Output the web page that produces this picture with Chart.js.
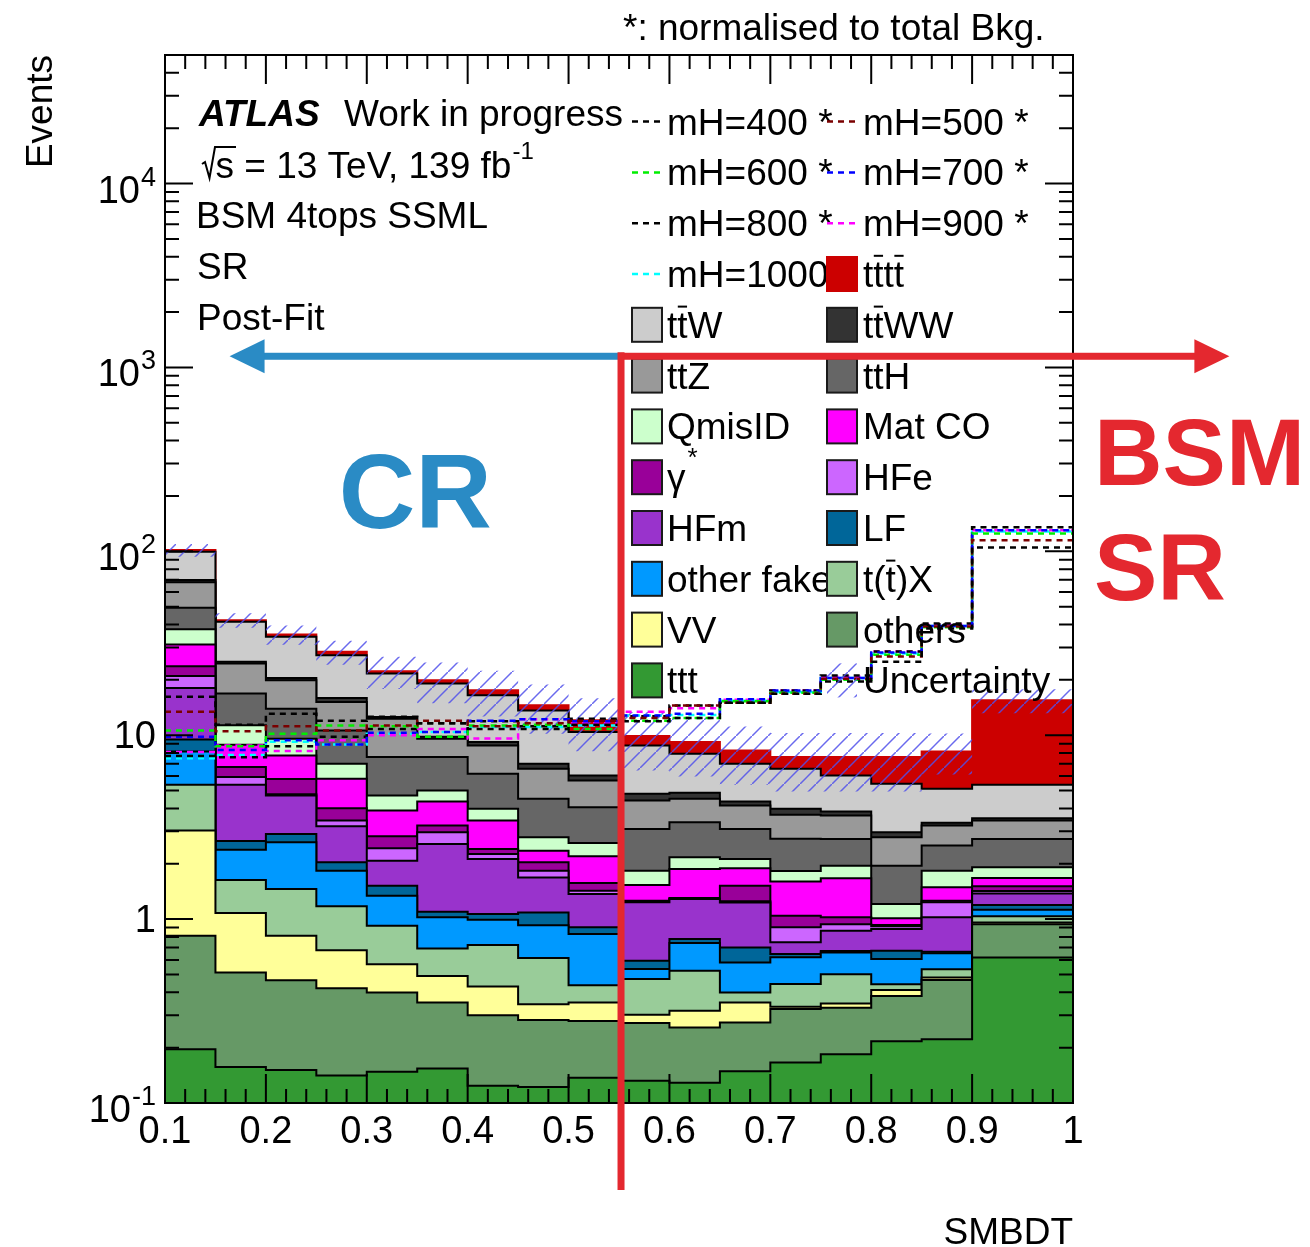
<!DOCTYPE html>
<html>
<head>
<meta charset="utf-8">
<title>SMBDT post-fit</title>
<script src="https://cdn.jsdelivr.net/npm/chart.js@4.4.0/dist/chart.umd.min.js"></script>
<style>
  html, body { margin: 0; padding: 0; background: #fff; }
  canvas { display: block; }
</style>
</head>
<body>
<canvas id="plot" width="1310" height="1247"></canvas>
<script>
// SMBDT binning: 16 bins of 0.05 and one wide bin at the end
const binEdges = [0.1, 0.15, 0.2, 0.25, 0.3, 0.35, 0.4, 0.45, 0.5, 0.55, 0.6, 0.65, 0.7, 0.75, 0.8, 0.85, 0.9, 1.0];

// background yields per bin, listed from the bottom of the stack upwards
const ttt       = [0.196, 0.157, 0.151, 0.141, 0.148, 0.154, 0.124, 0.122, 0.137, 0.132, 0.129, 0.149, 0.166, 0.184, 0.217, 0.222, 0.618];
const others    = [0.615, 0.355, 0.314, 0.280, 0.251, 0.198, 0.176, 0.161, 0.142, 0.140, 0.128, 0.125, 0.158, 0.146, 0.165, 0.245, 0.321];
const VV        = [2.22, 0.566, 0.346, 0.257, 0.170, 0.139, 0.130, 0.061, 0.073, 0.030, 0.060, 0.078, 0.010, 0.018, 0.030, 0.014, 0.020];
const tX        = [2.34, 0.553, 0.646, 0.495, 0.351, 0.201, 0.292, 0.271, 0.085, 0.170, 0.207, 0.047, 0.110, 0.153, 0.031, 0.053, 0.076];
const otherFake = [2.79, 0.755, 1.161, 0.660, 0.421, 0.330, 0.269, 0.312, 0.392, 0.063, 0.217, 0.182, 0.176, 0.157, 0.163, 0.119, 0.089];
const LF        = [1.33, 0.276, 0.288, 0.204, 0.179, 0.074, 0.074, 0.160, 0.073, 0.059, 0.038, 0.120, 0.026, 0.013, 0.067, 0.011, 0.068];
const HFm       = [8.59, 2.71, 1.79, 1.163, 0.559, 1.467, 1.058, 0.599, 0.468, 0.640, 0.507, 0.532, 0.102, 0.192, 0.210, 0.359, 0.188];
const HFe       = [2.94, 0.55, 0.08, 0.234, 0.35, 0.406, 0.138, 0.146, 0.057, 0.017, 0.005, 0.017, 0.155, 0.076, 0.031, 0.211, 0.04];
const gammaStar = [2.69, 0.79, 1.01, 0.578, 0.395, 0.256, 0.146, 0.204, 0.145, 0.008, 0.01, 0.269, 0.141, 0.083, 0.014, 0.025, 0.087];
const matCO     = [7.42, 2.17, 1.97, 1.78, 1.069, 1.132, 1.027, 0.319, 0.625, 0.274, 0.573, 0.37, 0.555, 0.644, 0.082, 0.231, 0.166];
const qmisID    = [6.59, 2.43, 1.81, 1.20, 0.81, 0.646, 0.543, 0.432, 0.399, 0.301, 0.296, 0.234, 0.229, 0.286, 0.198, 0.344, 0.239];
const ttH       = [11.63, 5.53, 4.37, 3.63, 2.91, 2.60, 2.19, 1.72, 1.466, 1.261, 1.196, 0.971, 0.903, 0.777, 0.745, 0.676, 0.817];
const ttZ       = [18.45, 7.69, 5.95, 4.55, 4.69, 1.96, 2.63, 2.06, 1.61, 1.319, 1.143, 1.049, 0.959, 0.926, 0.836, 0.716, 0.705];
const ttWW      = [2.0, 0.53, 0.61, 0.78, 0.27, 0.24, 0.38, 0.42, 0.37, 0.39, 0.352, 0.214, 0.289, 0.188, 0.181, 0.111, 0.104];
const ttW       = [29.8, 16.34, 13.79, 11.27, 9.06, 9.28, 7.30, 6.66, 4.37, 4.0, 3.07, 2.633, 2.593, 2.197, 2.472, 1.774, 1.835];
const tttt      = [2.0, 0.8, 1.0, 1.19, 0.64, 0.80, 1.06, 0.89, 1.63, 1.1, 1.25, 1.275, 1.037, 1.567, 2.166, 3.05, 10.1];

// relative total uncertainty on the background sum
const uncRel = [0.08, 0.09, 0.12, 0.15, 0.2, 0.25, 0.28, 0.3, 0.32, 0.35, 0.35, 0.35, 0.35, 0.35, 0.35, 0.25, 0.15];

// heavy Higgs signal shapes, normalised to the total background
const mH400  = [16.2, 11.4, 13.1, 12.0, 12.6, 11.6, 10.8, 10.8, 11.4, 11.9, 12.4, 15.0, 16.8, 19.6, 25.1, 38.0, 105];
const mH500  = [13.4, 10.5, 11.2, 10.6, 11.3, 12.0, 11.2, 11.6, 12.0, 12.4, 14.5, 15.0, 16.8, 20.3, 26.8, 39.0, 115];
const mH600  = [10.6, 8.7, 10.2, 11.3, 11.2, 9.8, 11.3, 11.4, 10.8, 12.0, 12.4, 15.3, 17.0, 20.0, 27.4, 38.6, 125];
const mH700  = [9.8, 8.3, 9.4, 8.9, 10.3, 10.4, 12.0, 12.2, 11.9, 12.8, 13.1, 15.7, 17.5, 20.5, 28.2, 39.3, 130];
const mH800  = [7.7, 7.6, 8.7, 9.8, 10.8, 11.6, 11.9, 11.2, 12.3, 12.7, 14.5, 15.0, 17.5, 21.1, 28.5, 40.5, 135];
const mH900  = [8.1, 8.8, 8.2, 9.4, 10.0, 10.8, 9.6, 12.2, 11.6, 13.4, 14.0, 15.6, 17.5, 20.8, 28.5, 40.0, 130];
const mH1000 = [7.5, 7.8, 9.2, 8.9, 10.2, 10.4, 11.1, 11.1, 11.3, 12.8, 12.9, 15.4, 17.2, 20.5, 27.8, 39.3, 128];

const xTickLabels = ['0.1', '0.2', '0.3', '0.4', '0.5', '0.6', '0.7', '0.8', '0.9', '1'];
const yDecades = [-1, 0, 1, 2, 3, 4];

const FONT = '"Liberation Sans", Arial, Helvetica, sans-serif';
const RED = '#e4282f';
const BLUE = '#2a8bc5';

const stackParts = [
  { label: 'ttt', values: ttt, color: '#339933' },
  { label: 'others', values: others, color: '#669966' },
  { label: 'VV', values: VV, color: '#ffff99' },
  { label: 't(~t)X', values: tX, color: '#99cc99' },
  { label: 'other fake', values: otherFake, color: '#0099ff' },
  { label: 'LF', values: LF, color: '#006699' },
  { label: 'HFm', values: HFm, color: '#9933cc' },
  { label: 'HFe', values: HFe, color: '#cc66ff' },
  { label: 'γ^*', values: gammaStar, color: '#990099' },
  { label: 'Mat CO', values: matCO, color: '#ff00ff' },
  { label: 'QmisID', values: qmisID, color: '#ccffcc' },
  { label: 'ttH', values: ttH, color: '#666666' },
  { label: 'ttZ', values: ttZ, color: '#999999' },
  { label: 't~tWW', values: ttWW, color: '#333333' },
  { label: 't~tW', values: ttW, color: '#cccccc' },
  { label: 't~tt~t', values: tttt, color: '#cc0000', edge: '#cc0000' },
];

const signals = [
  { label: 'mH=400 *', values: mH400, color: '#000000' },
  { label: 'mH=500 *', values: mH500, color: '#7a0000' },
  { label: 'mH=600 *', values: mH600, color: '#00ee00' },
  { label: 'mH=700 *', values: mH700, color: '#0000ff' },
  { label: 'mH=800 *', values: mH800, color: '#000000' },
  { label: 'mH=900 *', values: mH900, color: '#ff00ff' },
  { label: 'mH=1000', values: mH1000, color: '#00ffff' },
];

// histogram as a step line: one point per low bin edge plus the closing edge
function steps(vals) {
  const pts = vals.map((v, i) => ({ x: binEdges[i], y: v }));
  pts.push({ x: binEdges[binEdges.length - 1], y: vals[vals.length - 1] });
  return pts;
}

function hatchPattern() {
  const c = document.createElement('canvas');
  c.width = 16; c.height = 16;
  const g = c.getContext('2d');
  g.strokeStyle = 'rgba(80, 80, 235, 0.85)';
  g.lineWidth = 1.5;
  g.beginPath();
  g.moveTo(-2, 18);
  g.lineTo(18, -2);
  g.stroke();
  return g.createPattern(c, 'repeat');
}
const hatch = hatchPattern();

// cumulative stack
let running = binEdges.slice(0, -1).map(() => 0);
const stackSets = stackParts.map((p, k) => {
  running = running.map((r, i) => r + p.values[i]);
  return {
    label: p.label,
    data: steps(running),
    stepped: true,
    fill: k === 0 ? 'start' : '-1',
    backgroundColor: p.color,
    borderColor: p.edge || '#000000',
    borderWidth: 2,
    pointRadius: 0,
    order: 3,
  };
});
const total = running.slice();

const bandSets = [
  {
    label: 'band low',
    data: steps(total.map((t, i) => t * (1 - uncRel[i]))),
    stepped: true, fill: false, pointRadius: 0,
    borderColor: 'rgba(0,0,0,0)', borderWidth: 1, order: 2,
  },
  {
    label: 'Uncertainty',
    data: steps(total.map((t, i) => t * (1 + uncRel[i]))),
    stepped: true, fill: '-1', pointRadius: 0,
    backgroundColor: hatch,
    borderColor: 'rgba(0,0,0,0)', borderWidth: 1, order: 2,
  },
];

const signalSets = signals.map(s => ({
  label: s.label,
  data: steps(s.values),
  stepped: true,
  fill: false,
  borderColor: s.color,
  borderWidth: 2.5,
  borderDash: [6, 5],
  pointRadius: 0,
  order: 1,
}));

// rich text: "~" puts a bar over the next glyph, "^" raises the rest
function drawRich(ctx, text, x, y, size) {
  ctx.font = `${size}px ${FONT}`;
  ctx.textAlign = 'left';
  let cx = x;
  for (let i = 0; i < text.length; i++) {
    let ch = text[i];
    if (ch === '^') {
      ctx.font = `${Math.round(size * 0.7)}px ${FONT}`;
      ctx.fillText(text.slice(i + 1), cx + 2, y - size * 0.66);
      ctx.font = `${size}px ${FONT}`;
      return;
    }
    let bar = false;
    if (ch === '~') { bar = true; ch = text[++i]; }
    const w = ctx.measureText(ch).width;
    ctx.fillText(ch, cx, y);
    if (bar) ctx.fillRect(cx + w * 0.05, y - size * 0.87, w * 0.9, 2);
    cx += w;
  }
}

function drawFrame(ctx, a, x, y) {
  ctx.strokeStyle = '#000';
  ctx.lineWidth = 2;
  ctx.strokeRect(a.left, a.top, a.right - a.left, a.bottom - a.top);
  ctx.beginPath();
  for (let k = 0; k <= 45; k++) {
    const px = x.getPixelForValue(0.1 + k * 0.02);
    const len = k % 5 === 0 ? 29 : 14;
    ctx.moveTo(px, a.bottom); ctx.lineTo(px, a.bottom - len);
    ctx.moveTo(px, a.top); ctx.lineTo(px, a.top + len);
  }
  for (let e = -1; e <= 4; e++) {
    for (let m = 1; m <= 9; m++) {
      const v = m * Math.pow(10, e);
      if (v > y.max) break;
      const py = y.getPixelForValue(v);
      const len = m === 1 ? 28 : 14;
      ctx.moveTo(a.left, py); ctx.lineTo(a.left + len, py);
      ctx.moveTo(a.right, py); ctx.lineTo(a.right - len, py);
    }
  }
  ctx.stroke();
}

function drawTickLabels(ctx, a, x, y) {
  ctx.fillStyle = '#000';
  ctx.font = `38px ${FONT}`;
  ctx.textAlign = 'center';
  ctx.textBaseline = 'alphabetic';
  xTickLabels.forEach(t => {
    ctx.fillText(t, x.getPixelForValue(parseFloat(t)), a.bottom + 40);
  });
  const right = a.left - 9;
  yDecades.forEach(e => {
    const py = y.getPixelForValue(Math.pow(10, e));
    if (e === 0 || e === 1) {
      ctx.font = `38px ${FONT}`;
      ctx.textAlign = 'right';
      ctx.fillText(e === 0 ? '1' : '10', right, py + 13);
      return;
    }
    const exp = String(e);
    ctx.textAlign = 'left';
    ctx.font = `27px ${FONT}`;
    const ew = ctx.measureText(exp).width;
    ctx.font = `38px ${FONT}`;
    const bw = ctx.measureText('10').width;
    const x0 = right - ew - bw - 1;
    ctx.fillText('10', x0, py + 19);
    ctx.font = `27px ${FONT}`;
    ctx.fillText(exp, x0 + bw + 1, py + 2);
  });
}

function drawHeader(ctx, a) {
  ctx.fillStyle = '#000';
  ctx.textAlign = 'left';
  ctx.textBaseline = 'alphabetic';
  ctx.font = `37px ${FONT}`;
  ctx.fillText('*: normalised to total Bkg.', 623, 40);

  ctx.font = `italic bold 37px ${FONT}`;
  ctx.fillText('ATLAS', 199, 126);
  ctx.font = `37px ${FONT}`;
  ctx.fillText('Work in progress', 344, 126);

  // sqrt(s) line
  ctx.strokeStyle = '#000';
  ctx.lineWidth = 2;
  ctx.beginPath();
  ctx.moveTo(202, 164); ctx.lineTo(205, 162); ctx.lineTo(209.5, 178);
  ctx.lineTo(215, 147); ctx.lineTo(236, 147);
  ctx.stroke();
  ctx.fillText('s', 215.5, 178);
  const sw = ctx.measureText('s').width;
  const rest = ' = 13 TeV, 139 fb';
  ctx.fillText(rest, 215.5 + sw, 178);
  const rw = ctx.measureText(rest).width;
  ctx.font = `24px ${FONT}`;
  ctx.fillText('-1', 215.5 + sw + rw + 1, 159);

  ctx.font = `37px ${FONT}`;
  ctx.fillText('BSM 4tops SSML', 196, 228);
  ctx.fillText('SR', 197, 279);
  ctx.fillText('Post-Fit', 197, 330);

  // axis titles
  ctx.textAlign = 'right';
  ctx.fillText('SMBDT', a.right, 1244);
  ctx.save();
  ctx.translate(52, 0);
  ctx.rotate(-Math.PI / 2);
  ctx.fillText('Events', -55, 0);
  ctx.restore();
}

function drawLegend(ctx) {
  const boxX = [632, 827];
  const textX = [667, 863];
  const row0 = 121.6, rowStep = 50.8;
  const entries = [];
  signals.forEach(s => entries.push({ kind: 'line', color: s.color, label: s.label }));
  stackParts.slice().reverse().forEach(p => entries.push({ kind: 'box', color: p.color, edge: p.edge, label: p.label }));
  entries.push({ kind: 'hatch', label: 'Uncertainty' });

  entries.forEach((en, i) => {
    const col = i % 2;
    const cy = row0 + Math.floor(i / 2) * rowStep;
    const bx = boxX[col];
    if (en.kind === 'line') {
      ctx.save();
      ctx.strokeStyle = en.color;
      ctx.lineWidth = 2.5;
      ctx.setLineDash([6, 5]);
      ctx.beginPath();
      ctx.moveTo(bx, cy); ctx.lineTo(bx + 31, cy);
      ctx.stroke();
      ctx.restore();
    } else if (en.kind === 'box') {
      ctx.fillStyle = en.color;
      ctx.fillRect(bx, cy - 17, 30, 34);
      ctx.strokeStyle = en.edge || '#1a1a1a';
      ctx.lineWidth = 2;
      ctx.strokeRect(bx, cy - 17, 30, 34);
    } else {
      ctx.fillStyle = hatch;
      ctx.fillRect(bx, cy - 17, 30, 34);
    }
    ctx.fillStyle = '#000';
    drawRich(ctx, en.label, textX[col], cy + 13, 37);
  });
}

function drawArrowHead(ctx, tipX, baseX, cy, half) {
  ctx.beginPath();
  ctx.moveTo(tipX, cy);
  ctx.lineTo(baseX, cy - half);
  ctx.lineTo(baseX, cy + half);
  ctx.closePath();
  ctx.fill();
}

// control region / signal region split at the BDT cut
function drawRegions(ctx, a, x, y) {
  const cutX = x.getPixelForValue(0.552);
  const arrowY = y.getPixelForValue(1150);
  const leftTip = x.getPixelForValue(0.164);
  const rightTip = x.getPixelForValue(1.155);

  ctx.fillStyle = BLUE;
  ctx.fillRect(leftTip + 30, arrowY - 3.5, cutX - leftTip - 30, 7);
  drawArrowHead(ctx, leftTip, leftTip + 35, arrowY, 17);

  ctx.fillStyle = RED;
  ctx.fillRect(cutX, arrowY - 3.5, rightTip - cutX - 30, 7);
  drawArrowHead(ctx, rightTip, rightTip - 35, arrowY, 17);
  ctx.fillRect(cutX - 3.5, arrowY - 4, 7, a.bottom + 87 - arrowY + 4);

  ctx.textBaseline = 'alphabetic';
  ctx.fillStyle = BLUE;
  ctx.font = `bold 106px ${FONT}`;
  ctx.textAlign = 'center';
  ctx.fillText('CR', x.getPixelForValue(0.348), 528);

  ctx.fillStyle = RED;
  ctx.font = `bold 95px ${FONT}`;
  ctx.textAlign = 'left';
  ctx.fillText('BSM', 1094, 485);
  ctx.fillText('SR', 1094, 600);
}

const decor = {
  id: 'decor',
  afterDraw(chart) {
    const { ctx, chartArea: a, scales: { x, y } } = chart;
    ctx.save();
    drawFrame(ctx, a, x, y);
    drawTickLabels(ctx, a, x, y);
    drawHeader(ctx, a);
    drawLegend(ctx);
    drawRegions(ctx, a, x, y);
    ctx.restore();
  }
};

Chart.defaults.font.family = FONT;

new Chart(document.getElementById('plot'), {
  type: 'line',
  data: { datasets: [...stackSets, ...bandSets, ...signalSets] },
  options: {
    responsive: false,
    animation: false,
    devicePixelRatio: 1,
    layout: { padding: { left: 165, right: 237, top: 55, bottom: 144 } },
    plugins: {
      legend: { display: false },
      tooltip: { enabled: false },
      title: { display: false },
    },
    scales: {
      x: { type: 'linear', min: 0.1, max: 1.0, display: false },
      y: { type: 'logarithmic', min: 0.1, max: 5e4, display: false },
    },
  },
  plugins: [decor],
});
</script>
</body>
</html>
